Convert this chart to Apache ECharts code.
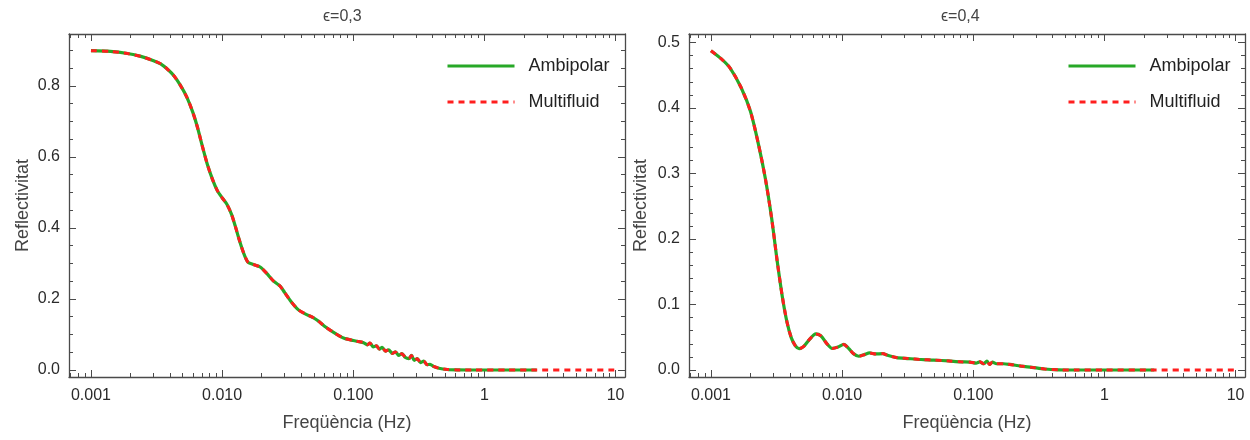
<!DOCTYPE html>
<html>
<head>
<meta charset="utf-8">
<script src="https://cdn.jsdelivr.net/npm/echarts@6/dist/echarts.min.js"></script>
<style>html,body{margin:0;padding:0;background:#fff}#c{width:1250px;height:440px}</style>
</head>
<body>
<div id="c"></div>
<script>
// ---- data ----
const titles = ['ϵ=0,3', 'ϵ=0,4'];
const xName = 'Freqüència (Hz)';
const yName = 'Reflectivitat';
const seriesNames = ['Ambipolar', 'Multifluid'];

const xMajorTicks = [0.001, 0.01, 0.1, 1, 10];
const xMajorLabels = ['0.001', '0.010', '0.100', '1', '10'];
const xMinorTicks = [0.0007, 0.0008, 0.0009,
  0.002, 0.003, 0.004, 0.005, 0.006, 0.007, 0.008, 0.009,
  0.02, 0.03, 0.04, 0.05, 0.06, 0.07, 0.08, 0.09,
  0.2, 0.3, 0.4, 0.5, 0.6, 0.7, 0.8, 0.9,
  2, 3, 4, 5, 6, 7, 8, 9];

const yMajorTicks03 = [0, 0.2, 0.4, 0.6, 0.8];
const yMinorTicks03 = [0.05, 0.1, 0.15, 0.25, 0.3, 0.35, 0.45, 0.5, 0.55, 0.65, 0.7, 0.75, 0.85, 0.9];
const yMajorTicks04 = [0, 0.1, 0.2, 0.3, 0.4, 0.5];
const yMinorTicks04 = [0.02, 0.04, 0.06, 0.08, 0.12, 0.14, 0.16, 0.18, 0.22, 0.24, 0.26, 0.28,
  0.32, 0.34, 0.36, 0.38, 0.42, 0.44, 0.46, 0.48];

const freq03 = [0.001, 0.0014, 0.0019, 0.0024, 0.003, 0.0034, 0.0038, 0.0043, 0.0048, 0.0054,
  0.006, 0.0065, 0.007, 0.0077, 0.0085, 0.0092, 0.01, 0.0109, 0.0118, 0.0126,
  0.0134, 0.0141, 0.015, 0.0158, 0.0173, 0.0195, 0.0219, 0.0247, 0.0277, 0.03,
  0.0335, 0.038, 0.043, 0.0498, 0.0545, 0.06, 0.0708, 0.0843, 0.1, 0.11,
  0.12, 0.128, 0.134, 0.142, 0.15, 0.158, 0.166, 0.176, 0.186, 0.198,
  0.21, 0.222, 0.235, 0.25, 0.265, 0.278, 0.292, 0.308, 0.325, 0.345,
  0.365, 0.385, 0.41, 0.45, 0.52, 0.62, 0.8, 1.5, 2.5, 5, 10];
const ambipolar03 = [0.899, 0.897, 0.891, 0.883, 0.871, 0.862, 0.848, 0.828, 0.802, 0.767,
  0.724, 0.682, 0.636, 0.580, 0.534, 0.505, 0.485, 0.466, 0.438, 0.405,
  0.371, 0.345, 0.318, 0.303, 0.297, 0.290, 0.272, 0.250, 0.236, 0.218,
  0.193, 0.170, 0.158, 0.147, 0.137, 0.124, 0.106, 0.090, 0.083, 0.080,
  0.077, 0.071, 0.076, 0.065, 0.068, 0.059, 0.064, 0.053, 0.057, 0.047,
  0.051, 0.041, 0.046, 0.035, 0.032, 0.041, 0.027, 0.032, 0.021, 0.025,
  0.015, 0.016, 0.010, 0.005, 0.0015, 0.0003, 0, 0, 0, null, null];
const multifluid03 = [0.899, 0.897, 0.891, 0.883, 0.871, 0.862, 0.848, 0.828, 0.802, 0.767,
  0.724, 0.682, 0.636, 0.580, 0.534, 0.505, 0.485, 0.466, 0.438, 0.405,
  0.371, 0.345, 0.318, 0.303, 0.297, 0.290, 0.272, 0.250, 0.236, 0.218,
  0.193, 0.170, 0.158, 0.147, 0.137, 0.124, 0.106, 0.090, 0.083, 0.080,
  0.077, 0.071, 0.076, 0.065, 0.068, 0.059, 0.064, 0.053, 0.057, 0.047,
  0.051, 0.041, 0.046, 0.035, 0.032, 0.041, 0.027, 0.032, 0.021, 0.025,
  0.015, 0.016, 0.010, 0.005, 0.0015, 0.0003, 0, 0, 0, 0, 0];

const freq04 = [0.001, 0.0012, 0.0014, 0.0017, 0.002, 0.0023, 0.0026, 0.0029, 0.0032, 0.0035,
  0.0038, 0.0041, 0.0044, 0.0047, 0.0051, 0.0056, 0.0063, 0.0069, 0.0076, 0.0084,
  0.0093, 0.0103, 0.0112, 0.0122, 0.0134, 0.0148, 0.0162, 0.018, 0.0203, 0.0225,
  0.026, 0.032, 0.04, 0.05, 0.065, 0.08, 0.095, 0.105, 0.112, 0.12,
  0.127, 0.133, 0.14, 0.15, 0.17, 0.19, 0.23, 0.28, 0.35, 0.45,
  0.6, 1, 2.4, 5, 10];
const ambipolar04 = [0.4875, 0.475, 0.461, 0.431, 0.395, 0.345, 0.292, 0.232, 0.166, 0.112,
  0.073, 0.049, 0.037, 0.0325, 0.036, 0.046, 0.055, 0.052, 0.041, 0.033,
  0.035, 0.039, 0.033, 0.025, 0.021, 0.0235, 0.026, 0.0245, 0.025, 0.022,
  0.019, 0.0175, 0.016, 0.0152, 0.0138, 0.0125, 0.012, 0.0105, 0.0125, 0.0095,
  0.0135, 0.0085, 0.012, 0.0095, 0.0095, 0.0085, 0.006, 0.004, 0.0015, 0.0003,
  0, 0, 0, null, null];
const multifluid04 = [0.4875, 0.475, 0.461, 0.431, 0.395, 0.345, 0.292, 0.232, 0.166, 0.112,
  0.073, 0.049, 0.037, 0.0325, 0.036, 0.046, 0.055, 0.052, 0.041, 0.033,
  0.035, 0.039, 0.033, 0.025, 0.021, 0.0235, 0.026, 0.0245, 0.025, 0.022,
  0.019, 0.0175, 0.016, 0.0152, 0.0138, 0.0125, 0.012, 0.0105, 0.0125, 0.0095,
  0.0135, 0.0085, 0.012, 0.0095, 0.0095, 0.0085, 0.006, 0.004, 0.0015, 0.0003,
  0, 0, 0, 0, 0];

// ---- style / layout ----
const FONT = '"Liberation Sans", Arial, sans-serif';
const FRAME = '#4a4a4a';
const GREEN = '#27a827';
const RED = '#ff1e1e';
const X_MIN = 0.00068, X_MAX = 11.8;
const panels = [
  { left: 69, yMin: -0.0197, yMax: 0.946, yMaj: yMajorTicks03, yMin2: yMinorTicks03,
    freq: freq03, a: ambipolar03, m: multifluid03, title: titles[0], titleX: 318, legendX: 446 },
  { left: 689, yMin: -0.0107, yMax: 0.513, yMaj: yMajorTicks04, yMin2: yMinorTicks04,
    freq: freq04, a: ambipolar04, m: multifluid04, title: titles[1], titleX: 936, legendX: 1067 }
];

function labelFor(v) {
  for (let i = 0; i < xMajorTicks.length; i++) {
    if (Math.abs(v - xMajorTicks[i]) / xMajorTicks[i] < 1e-6) return xMajorLabels[i];
  }
  return '';
}

const grid = [], xAxis = [], yAxis = [], series = [], title = [], legend = [];
panels.forEach((p, gi) => {
  grid.push({ left: p.left, top: 34, width: 556, height: 343, containLabel: false });
  title.push({ text: p.title, left: p.titleX, top: 4,
    textStyle: { fontFamily: FONT, fontSize: 16, fontWeight: 'normal', color: '#444' } });
  legend.push({
    left: p.legendX, top: 57, orient: 'vertical', itemWidth: 67, itemHeight: 14, itemGap: 18,
    padding: 0, data: seriesNames,
    itemStyle: { opacity: 0 },
    lineStyle: { width: 3 },
    textStyle: { fontFamily: FONT, fontSize: 18, color: '#222', padding: [0, 0, 0, 9] }
  });
  const mkX = (pos, major, showLabel) => ({
    type: 'log', gridIndex: gi, position: pos, min: X_MIN, max: X_MAX, logBase: 10,
    axisLine: { show: major, onZero: false, lineStyle: { color: FRAME, width: 1.3 } },
    axisTick: { show: true, inside: true, length: major ? 7 : 4,
      customValues: major ? xMajorTicks : xMinorTicks, lineStyle: { color: FRAME, width: 1 } },
    axisLabel: showLabel ? { show: true, customValues: xMajorTicks, formatter: labelFor,
      fontFamily: FONT, fontSize: 16, color: '#2a2a2a', margin: 11 } : { show: false },
    splitLine: { show: false }, minorTick: { show: false },
    name: showLabel ? xName : '', nameLocation: 'middle', nameGap: 37,
    nameTextStyle: { fontFamily: FONT, fontSize: 18, color: '#444' }
  });
  xAxis.push(mkX('bottom', true, true), mkX('bottom', false, false),
             mkX('top', true, false), mkX('top', false, false));
  const mkY = (pos, major, showLabel) => ({
    type: 'value', gridIndex: gi, position: pos, min: p.yMin, max: p.yMax,
    axisLine: { show: major, onZero: false, lineStyle: { color: FRAME, width: 1.3 } },
    axisTick: { show: true, inside: true, length: major ? 7 : 4,
      customValues: major ? p.yMaj : p.yMin2, lineStyle: { color: FRAME, width: 1 } },
    axisLabel: showLabel ? { show: true, customValues: p.yMaj, formatter: v => v.toFixed(1),
      fontFamily: FONT, fontSize: 16, color: '#2a2a2a', margin: 9 } : { show: false },
    splitLine: { show: false },
    name: showLabel ? yName : '', nameLocation: 'middle', nameGap: gi === 0 ? 37 : 39,
    nameRotate: 90,
    nameTextStyle: { fontFamily: FONT, fontSize: 18, color: '#444' }
  });
  yAxis.push(mkY('left', true, true), mkY('left', false, false),
             mkY('right', true, false), mkY('right', false, false));
  const xi = gi * 4, yi = gi * 4;
  series.push({
    name: seriesNames[0], type: 'line', xAxisIndex: xi, yAxisIndex: yi,
    data: p.freq.map((f, i) => [f, p.a[i]]), showSymbol: false, symbol: 'none',
    smooth: 0.25, connectNulls: false, z: 2,
    lineStyle: { color: GREEN, width: 3.2 }, itemStyle: { color: GREEN }
  });
  series.push({
    name: seriesNames[1], type: 'line', xAxisIndex: xi, yAxisIndex: yi,
    data: p.freq.map((f, i) => [f, p.m[i]]), showSymbol: false, symbol: 'none',
    smooth: 0.25, z: 3,
    lineStyle: { color: RED, width: 3, type: [6, 5] }, itemStyle: { color: RED }
  });
});

const chart = echarts.init(document.getElementById('c'), null, { renderer: 'canvas' });
chart.setOption({
  backgroundColor: '#fff', animation: false,
  title, legend, grid, xAxis, yAxis, series
});
</script>
</body>
</html>
